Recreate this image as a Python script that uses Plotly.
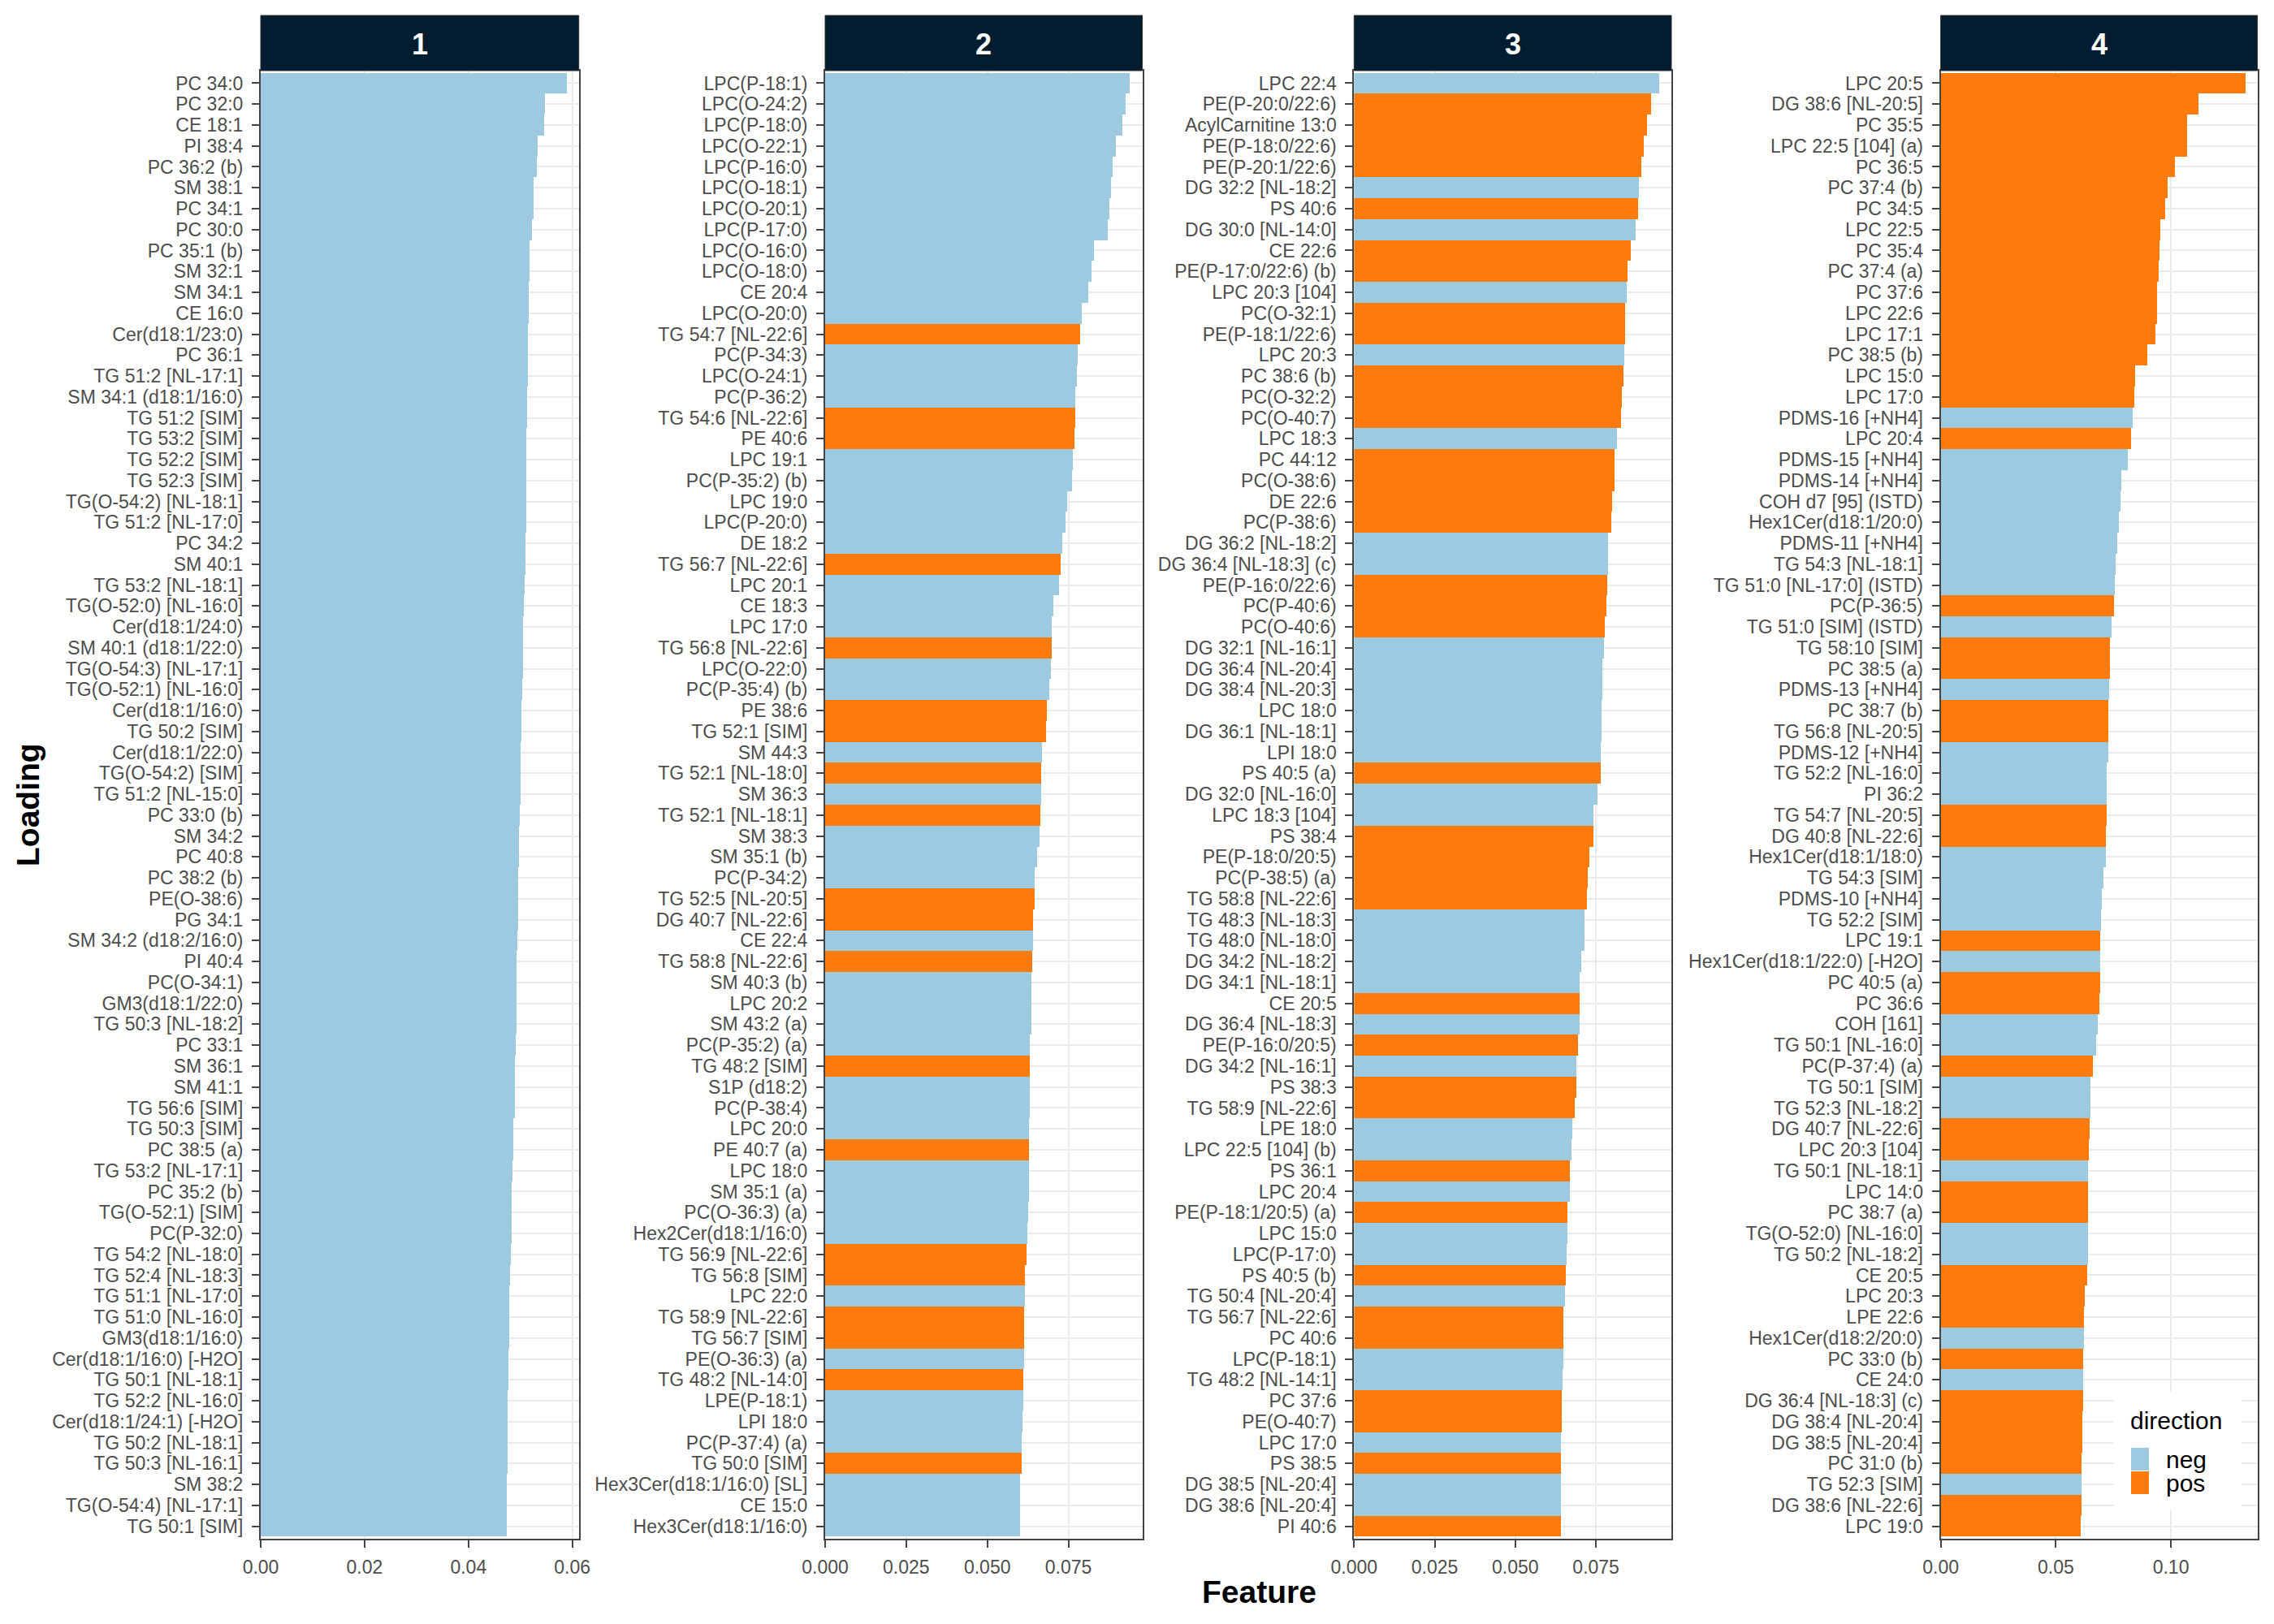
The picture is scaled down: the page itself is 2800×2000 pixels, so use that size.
"""Top feature loadings per component, faceted bar chart (4 panels)."""

import plotly.graph_objects as go

FIG_W, FIG_H = 2800, 2000
PAGE_OFFSET = 8  # browser body margin, the figure is drawn 8px in from the page corner
FONT = "Liberation Sans, Arial, sans-serif"
COLORS = {"neg": "#9ecae1", "pos": "#fd7b0b"}
STRIP_COLOR = "#021d2f"
GRID_COLOR = "#ebebeb"
BORDER_COLOR = "#444444"
TICK_TEXT_COLOR = "#4d4d4d"

PANEL_IDS = ["1", "2", "3", "4"]
DIRECTION_LEVELS = ["neg", "pos"]

# ---- panel 1 -------------------------------------------------------------
P1_FEATURES = [
    "PC 34:0", "PC 32:0", "CE 18:1", "PI 38:4", "PC 36:2 (b)", "SM 38:1", "PC 34:1", "PC 30:0",
    "PC 35:1 (b)", "SM 32:1", "SM 34:1", "CE 16:0", "Cer(d18:1/23:0)", "PC 36:1",
    "TG 51:2 [NL-17:1]", "SM 34:1 (d18:1/16:0)", "TG 51:2 [SIM]", "TG 53:2 [SIM]",
    "TG 52:2 [SIM]", "TG 52:3 [SIM]", "TG(O-54:2) [NL-18:1]", "TG 51:2 [NL-17:0]", "PC 34:2",
    "SM 40:1", "TG 53:2 [NL-18:1]", "TG(O-52:0) [NL-16:0]", "Cer(d18:1/24:0)",
    "SM 40:1 (d18:1/22:0)", "TG(O-54:3) [NL-17:1]", "TG(O-52:1) [NL-16:0]", "Cer(d18:1/16:0)",
    "TG 50:2 [SIM]", "Cer(d18:1/22:0)", "TG(O-54:2) [SIM]", "TG 51:2 [NL-15:0]", "PC 33:0 (b)",
    "SM 34:2", "PC 40:8", "PC 38:2 (b)", "PE(O-38:6)", "PG 34:1", "SM 34:2 (d18:2/16:0)",
    "PI 40:4", "PC(O-34:1)", "GM3(d18:1/22:0)", "TG 50:3 [NL-18:2]", "PC 33:1", "SM 36:1",
    "SM 41:1", "TG 56:6 [SIM]", "TG 50:3 [SIM]", "PC 38:5 (a)", "TG 53:2 [NL-17:1]",
    "PC 35:2 (b)", "TG(O-52:1) [SIM]", "PC(P-32:0)", "TG 54:2 [NL-18:0]", "TG 52:4 [NL-18:3]",
    "TG 51:1 [NL-17:0]", "TG 51:0 [NL-16:0]", "GM3(d18:1/16:0)", "Cer(d18:1/16:0) [-H2O]",
    "TG 50:1 [NL-18:1]", "TG 52:2 [NL-16:0]", "Cer(d18:1/24:1) [-H2O]", "TG 50:2 [NL-18:1]",
    "TG 50:3 [NL-16:1]", "SM 38:2", "TG(O-54:4) [NL-17:1]", "TG 50:1 [SIM]",
]
P1_LOADINGS = [
    0.0589, 0.0548, 0.0546, 0.0534, 0.0531, 0.0526, 0.0526, 0.0522, 0.0518, 0.0517,
    0.0516, 0.0516, 0.0515, 0.0514, 0.0514, 0.0513, 0.0513, 0.0512, 0.0512, 0.0512,
    0.0511, 0.0511, 0.0510, 0.0510, 0.0509, 0.0506, 0.0505, 0.0505, 0.0505, 0.0503,
    0.0502, 0.0502, 0.0501, 0.0500, 0.0500, 0.0499, 0.0497, 0.0497, 0.0496, 0.0495,
    0.0495, 0.0494, 0.0493, 0.0493, 0.0492, 0.0492, 0.0491, 0.0490, 0.0490, 0.0489,
    0.0487, 0.0486, 0.0485, 0.0484, 0.0484, 0.0483, 0.0481, 0.0480, 0.0479, 0.0479,
    0.0478, 0.0477, 0.0477, 0.0476, 0.0476, 0.0476, 0.0475, 0.0474, 0.0474, 0.0474,
]
P1_DIRECTION = [
    "neg", "neg", "neg", "neg", "neg", "neg", "neg", "neg", "neg", "neg",
    "neg", "neg", "neg", "neg", "neg", "neg", "neg", "neg", "neg", "neg",
    "neg", "neg", "neg", "neg", "neg", "neg", "neg", "neg", "neg", "neg",
    "neg", "neg", "neg", "neg", "neg", "neg", "neg", "neg", "neg", "neg",
    "neg", "neg", "neg", "neg", "neg", "neg", "neg", "neg", "neg", "neg",
    "neg", "neg", "neg", "neg", "neg", "neg", "neg", "neg", "neg", "neg",
    "neg", "neg", "neg", "neg", "neg", "neg", "neg", "neg", "neg", "neg",
]
P1_TICKVALS = [0.0, 0.02, 0.04, 0.06]
P1_TICKTEXT = ["0.00", "0.02", "0.04", "0.06"]

# ---- panel 2 -------------------------------------------------------------
P2_FEATURES = [
    "LPC(P-18:1)", "LPC(O-24:2)", "LPC(P-18:0)", "LPC(O-22:1)", "LPC(P-16:0)", "LPC(O-18:1)",
    "LPC(O-20:1)", "LPC(P-17:0)", "LPC(O-16:0)", "LPC(O-18:0)", "CE 20:4", "LPC(O-20:0)",
    "TG 54:7 [NL-22:6]", "PC(P-34:3)", "LPC(O-24:1)", "PC(P-36:2)", "TG 54:6 [NL-22:6]",
    "PE 40:6", "LPC 19:1", "PC(P-35:2) (b)", "LPC 19:0", "LPC(P-20:0)", "DE 18:2",
    "TG 56:7 [NL-22:6]", "LPC 20:1", "CE 18:3", "LPC 17:0", "TG 56:8 [NL-22:6]", "LPC(O-22:0)",
    "PC(P-35:4) (b)", "PE 38:6", "TG 52:1 [SIM]", "SM 44:3", "TG 52:1 [NL-18:0]", "SM 36:3",
    "TG 52:1 [NL-18:1]", "SM 38:3", "SM 35:1 (b)", "PC(P-34:2)", "TG 52:5 [NL-20:5]",
    "DG 40:7 [NL-22:6]", "CE 22:4", "TG 58:8 [NL-22:6]", "SM 40:3 (b)", "LPC 20:2",
    "SM 43:2 (a)", "PC(P-35:2) (a)", "TG 48:2 [SIM]", "S1P (d18:2)", "PC(P-38:4)", "LPC 20:0",
    "PE 40:7 (a)", "LPC 18:0", "SM 35:1 (a)", "PC(O-36:3) (a)", "Hex2Cer(d18:1/16:0)",
    "TG 56:9 [NL-22:6]", "TG 56:8 [SIM]", "LPC 22:0", "TG 58:9 [NL-22:6]", "TG 56:7 [SIM]",
    "PE(O-36:3) (a)", "TG 48:2 [NL-14:0]", "LPE(P-18:1)", "LPI 18:0", "PC(P-37:4) (a)",
    "TG 50:0 [SIM]", "Hex3Cer(d18:1/16:0) [SL]", "CE 15:0", "Hex3Cer(d18:1/16:0)",
]
P2_LOADINGS = [
    0.0940, 0.0926, 0.0916, 0.0895, 0.0885, 0.0882, 0.0876, 0.0870, 0.0829, 0.0821,
    0.0811, 0.0790, 0.0787, 0.0778, 0.0776, 0.0772, 0.0771, 0.0768, 0.0764, 0.0760,
    0.0745, 0.0742, 0.0730, 0.0727, 0.0720, 0.0703, 0.0699, 0.0698, 0.0697, 0.0691,
    0.0684, 0.0680, 0.0668, 0.0665, 0.0665, 0.0664, 0.0661, 0.0653, 0.0647, 0.0645,
    0.0641, 0.0640, 0.0639, 0.0637, 0.0636, 0.0635, 0.0632, 0.0632, 0.0630, 0.0630,
    0.0629, 0.0629, 0.0629, 0.0628, 0.0627, 0.0624, 0.0622, 0.0616, 0.0615, 0.0614,
    0.0614, 0.0613, 0.0611, 0.0610, 0.0609, 0.0607, 0.0605, 0.0602, 0.0601, 0.0600,
]
P2_DIRECTION = [
    "neg", "neg", "neg", "neg", "neg", "neg", "neg", "neg", "neg", "neg",
    "neg", "neg", "pos", "neg", "neg", "neg", "pos", "pos", "neg", "neg",
    "neg", "neg", "neg", "pos", "neg", "neg", "neg", "pos", "neg", "neg",
    "pos", "pos", "neg", "pos", "neg", "pos", "neg", "neg", "neg", "pos",
    "pos", "neg", "pos", "neg", "neg", "neg", "neg", "pos", "neg", "neg",
    "neg", "pos", "neg", "neg", "neg", "neg", "pos", "pos", "neg", "pos",
    "pos", "neg", "pos", "neg", "neg", "neg", "pos", "neg", "neg", "neg",
]
P2_TICKVALS = [0.0, 0.025, 0.05, 0.075]
P2_TICKTEXT = ["0.000", "0.025", "0.050", "0.075"]

# ---- panel 3 -------------------------------------------------------------
P3_FEATURES = [
    "LPC 22:4", "PE(P-20:0/22:6)", "AcylCarnitine 13:0", "PE(P-18:0/22:6)", "PE(P-20:1/22:6)",
    "DG 32:2 [NL-18:2]", "PS 40:6", "DG 30:0 [NL-14:0]", "CE 22:6", "PE(P-17:0/22:6) (b)",
    "LPC 20:3 [104]", "PC(O-32:1)", "PE(P-18:1/22:6)", "LPC 20:3", "PC 38:6 (b)", "PC(O-32:2)",
    "PC(O-40:7)", "LPC 18:3", "PC 44:12", "PC(O-38:6)", "DE 22:6", "PC(P-38:6)",
    "DG 36:2 [NL-18:2]", "DG 36:4 [NL-18:3] (c)", "PE(P-16:0/22:6)", "PC(P-40:6)", "PC(O-40:6)",
    "DG 32:1 [NL-16:1]", "DG 36:4 [NL-20:4]", "DG 38:4 [NL-20:3]", "LPC 18:0",
    "DG 36:1 [NL-18:1]", "LPI 18:0", "PS 40:5 (a)", "DG 32:0 [NL-16:0]", "LPC 18:3 [104]",
    "PS 38:4", "PE(P-18:0/20:5)", "PC(P-38:5) (a)", "TG 58:8 [NL-22:6]", "TG 48:3 [NL-18:3]",
    "TG 48:0 [NL-18:0]", "DG 34:2 [NL-18:2]", "DG 34:1 [NL-18:1]", "CE 20:5",
    "DG 36:4 [NL-18:3]", "PE(P-16:0/20:5)", "DG 34:2 [NL-16:1]", "PS 38:3", "TG 58:9 [NL-22:6]",
    "LPE 18:0", "LPC 22:5 [104] (b)", "PS 36:1", "LPC 20:4", "PE(P-18:1/20:5) (a)", "LPC 15:0",
    "LPC(P-17:0)", "PS 40:5 (b)", "TG 50:4 [NL-20:4]", "TG 56:7 [NL-22:6]", "PC 40:6",
    "LPC(P-18:1)", "TG 48:2 [NL-14:1]", "PC 37:6", "PE(O-40:7)", "LPC 17:0", "PS 38:5",
    "DG 38:5 [NL-20:4]", "DG 38:6 [NL-20:4]", "PI 40:6",
]
P3_LOADINGS = [
    0.0946, 0.0921, 0.0910, 0.0898, 0.0892, 0.0883, 0.0881, 0.0874, 0.0859, 0.0848,
    0.0845, 0.0840, 0.0840, 0.0839, 0.0836, 0.0830, 0.0828, 0.0815, 0.0809, 0.0808,
    0.0802, 0.0797, 0.0787, 0.0787, 0.0785, 0.0783, 0.0777, 0.0775, 0.0771, 0.0770,
    0.0769, 0.0767, 0.0766, 0.0766, 0.0756, 0.0744, 0.0744, 0.0730, 0.0724, 0.0723,
    0.0716, 0.0714, 0.0704, 0.0701, 0.0699, 0.0699, 0.0695, 0.0690, 0.0689, 0.0686,
    0.0678, 0.0676, 0.0671, 0.0671, 0.0663, 0.0662, 0.0661, 0.0657, 0.0655, 0.0650,
    0.0650, 0.0649, 0.0646, 0.0645, 0.0644, 0.0643, 0.0643, 0.0642, 0.0642, 0.0642,
]
P3_DIRECTION = [
    "neg", "pos", "pos", "pos", "pos", "neg", "pos", "neg", "pos", "pos",
    "neg", "pos", "pos", "neg", "pos", "pos", "pos", "neg", "pos", "pos",
    "pos", "pos", "neg", "neg", "pos", "pos", "pos", "neg", "neg", "neg",
    "neg", "neg", "neg", "pos", "neg", "neg", "pos", "pos", "pos", "pos",
    "neg", "neg", "neg", "neg", "pos", "neg", "pos", "neg", "pos", "pos",
    "neg", "neg", "pos", "neg", "pos", "neg", "neg", "pos", "neg", "pos",
    "pos", "neg", "neg", "pos", "pos", "neg", "pos", "neg", "neg", "pos",
]
P3_TICKVALS = [0.0, 0.025, 0.05, 0.075]
P3_TICKTEXT = ["0.000", "0.025", "0.050", "0.075"]

# ---- panel 4 -------------------------------------------------------------
P4_FEATURES = [
    "LPC 20:5", "DG 38:6 [NL-20:5]", "PC 35:5", "LPC 22:5 [104] (a)", "PC 36:5", "PC 37:4 (b)",
    "PC 34:5", "LPC 22:5", "PC 35:4", "PC 37:4 (a)", "PC 37:6", "LPC 22:6", "LPC 17:1",
    "PC 38:5 (b)", "LPC 15:0", "LPC 17:0", "PDMS-16 [+NH4]", "LPC 20:4", "PDMS-15 [+NH4]",
    "PDMS-14 [+NH4]", "COH d7 [95] (ISTD)", "Hex1Cer(d18:1/20:0)", "PDMS-11 [+NH4]",
    "TG 54:3 [NL-18:1]", "TG 51:0 [NL-17:0] (ISTD)", "PC(P-36:5)", "TG 51:0 [SIM] (ISTD)",
    "TG 58:10 [SIM]", "PC 38:5 (a)", "PDMS-13 [+NH4]", "PC 38:7 (b)", "TG 56:8 [NL-20:5]",
    "PDMS-12 [+NH4]", "TG 52:2 [NL-16:0]", "PI 36:2", "TG 54:7 [NL-20:5]", "DG 40:8 [NL-22:6]",
    "Hex1Cer(d18:1/18:0)", "TG 54:3 [SIM]", "PDMS-10 [+NH4]", "TG 52:2 [SIM]", "LPC 19:1",
    "Hex1Cer(d18:1/22:0) [-H2O]", "PC 40:5 (a)", "PC 36:6", "COH [161]", "TG 50:1 [NL-16:0]",
    "PC(P-37:4) (a)", "TG 50:1 [SIM]", "TG 52:3 [NL-18:2]", "DG 40:7 [NL-22:6]",
    "LPC 20:3 [104]", "TG 50:1 [NL-18:1]", "LPC 14:0", "PC 38:7 (a)", "TG(O-52:0) [NL-16:0]",
    "TG 50:2 [NL-18:2]", "CE 20:5", "LPC 20:3", "LPE 22:6", "Hex1Cer(d18:2/20:0)",
    "PC 33:0 (b)", "CE 24:0", "DG 36:4 [NL-18:3] (c)", "DG 38:4 [NL-20:4]", "DG 38:5 [NL-20:4]",
    "PC 31:0 (b)", "TG 52:3 [SIM]", "DG 38:6 [NL-22:6]", "LPC 19:0",
]
P4_LOADINGS = [
    0.1323, 0.1120, 0.1070, 0.1068, 0.1015, 0.0984, 0.0974, 0.0953, 0.0950, 0.0947,
    0.0940, 0.0940, 0.0930, 0.0895, 0.0843, 0.0838, 0.0832, 0.0825, 0.0812, 0.0783,
    0.0778, 0.0773, 0.0765, 0.0759, 0.0755, 0.0751, 0.0742, 0.0733, 0.0733, 0.0731,
    0.0728, 0.0728, 0.0725, 0.0721, 0.0720, 0.0718, 0.0717, 0.0715, 0.0704, 0.0700,
    0.0695, 0.0692, 0.0691, 0.0690, 0.0687, 0.0682, 0.0673, 0.0660, 0.0650, 0.0648,
    0.0644, 0.0642, 0.0640, 0.0639, 0.0638, 0.0637, 0.0637, 0.0634, 0.0626, 0.0622,
    0.0621, 0.0618, 0.0616, 0.0616, 0.0615, 0.0613, 0.0612, 0.0610, 0.0609, 0.0607,
]
P4_DIRECTION = [
    "pos", "pos", "pos", "pos", "pos", "pos", "pos", "pos", "pos", "pos",
    "pos", "pos", "pos", "pos", "pos", "pos", "neg", "pos", "neg", "neg",
    "neg", "neg", "neg", "neg", "neg", "pos", "neg", "pos", "pos", "neg",
    "pos", "pos", "neg", "neg", "neg", "pos", "pos", "neg", "neg", "neg",
    "neg", "pos", "neg", "pos", "pos", "neg", "neg", "pos", "neg", "neg",
    "pos", "pos", "neg", "pos", "pos", "neg", "neg", "pos", "pos", "pos",
    "neg", "pos", "neg", "pos", "pos", "pos", "pos", "neg", "pos", "pos",
]
P4_TICKVALS = [0.0, 0.05, 0.10]
P4_TICKTEXT = ["0.00", "0.05", "0.10"]

# ---- layout in page pixels (left, right) ----------------------------------
PANEL_X = [(321, 712.7), (1016, 1406.5), (1667.3, 2058), (2389.6, 2779.6)]
PANEL_TOP, PANEL_BOTTOM = 87, 1895
STRIP_TOP = 19


def px_x(x: float) -> float:
    return (x - PAGE_OFFSET) / FIG_W


def px_y(y: float) -> float:
    return 1 - (y - PAGE_OFFSET) / FIG_H


def axis_keys(n: int) -> tuple[str, str, str, str]:
    suffix = "" if n == 1 else str(n)
    return f"x{suffix}", f"y{suffix}", f"xaxis{suffix}", f"yaxis{suffix}"


def add_panel(fig: go.Figure, n: int, features, loadings, direction, tickvals, ticktext) -> None:
    xref, yref, xkey, ykey = axis_keys(n)
    left, right = PANEL_X[n - 1]
    fig.add_trace(
        go.Bar(
            x=loadings,
            y=features,
            orientation="h",
            marker=dict(color=[COLORS[d] for d in direction], line=dict(width=0)),
            customdata=direction,
            hovertemplate="%{y}<br>loading=%{x:.4f}<br>%{customdata}<extra></extra>",
            xaxis=xref,
            yaxis=yref,
            showlegend=False,
        )
    )
    common = dict(
        showline=True,
        linecolor=BORDER_COLOR,
        linewidth=2,
        mirror=True,
        ticks="outside",
        ticklen=9,
        tickwidth=2,
        tickcolor=BORDER_COLOR,
        tickfont=dict(family=FONT, size=23, color=TICK_TEXT_COLOR),
        showgrid=True,
        gridcolor=GRID_COLOR,
        gridwidth=2,
        zeroline=False,
        automargin=False,
    )
    fig.update_layout(
        {
            xkey: dict(
                common,
                domain=[px_x(left), px_x(right)],
                anchor=yref,
                range=[0, max(loadings) * 1.04],
                tickmode="array",
                tickvals=tickvals,
                ticktext=ticktext,
                ticklabelstandoff=4,
            ),
            ykey: dict(
                common,
                domain=[px_y(PANEL_BOTTOM), px_y(PANEL_TOP)],
                anchor=xref,
                type="category",
                categoryorder="array",
                categoryarray=features,
                tickmode="array",
                tickvals=features,
                ticktext=features,
                range=[len(features) - 0.4, -0.6],
                ticklabelstandoff=6,
            ),
        }
    )
    # facet strip
    fig.add_shape(
        type="rect", xref="paper", yref="paper",
        x0=px_x(left), x1=px_x(right), y0=px_y(PANEL_TOP), y1=px_y(STRIP_TOP),
        fillcolor=STRIP_COLOR, line=dict(color="#333333", width=1),
    )
    fig.add_annotation(
        x=px_x((left + right) / 2), y=px_y((PANEL_TOP + STRIP_TOP) / 2 + 1),
        xref="paper", yref="paper", text=PANEL_IDS[n - 1], showarrow=False,
        font=dict(family=FONT, size=36, color="white", weight="bold"),
        xanchor="center", yanchor="middle",
    )


def add_legend(fig: go.Figure) -> None:
    fig.add_shape(
        type="rect", xref="paper", yref="paper", layer="above",
        x0=px_x(2603), x1=px_x(2760), y0=px_y(1860), y1=px_y(1715),
        fillcolor="white", line=dict(width=0),
    )
    fig.add_annotation(
        x=px_x(2621), y=px_y(1749), xref="paper", yref="paper", text="direction",
        showarrow=False, xanchor="left", yanchor="middle",
        font=dict(family=FONT, size=30, color="black"),
    )
    key_top = 1783
    for level in DIRECTION_LEVELS:
        fig.add_shape(
            type="rect", xref="paper", yref="paper", layer="above",
            x0=px_x(2624), x1=px_x(2646), y0=px_y(key_top + 28), y1=px_y(key_top),
            fillcolor=COLORS[level], line=dict(width=0),
        )
        fig.add_annotation(
            x=px_x(2665), y=px_y(key_top + 14), xref="paper", yref="paper", text=level,
            showarrow=False, xanchor="left", yanchor="middle",
            font=dict(family=FONT, size=30, color="black"),
        )
        key_top += 29


fig = go.Figure()
panels = [
    (P1_FEATURES, P1_LOADINGS, P1_DIRECTION, P1_TICKVALS, P1_TICKTEXT),
    (P2_FEATURES, P2_LOADINGS, P2_DIRECTION, P2_TICKVALS, P2_TICKTEXT),
    (P3_FEATURES, P3_LOADINGS, P3_DIRECTION, P3_TICKVALS, P3_TICKTEXT),
    (P4_FEATURES, P4_LOADINGS, P4_DIRECTION, P4_TICKVALS, P4_TICKTEXT),
]
for i, panel in enumerate(panels, start=1):
    add_panel(fig, i, *panel)
add_legend(fig)

# axis titles (coord_flip style: categories are "Loading", values are "Feature")
fig.add_annotation(
    x=px_x(34), y=px_y((PANEL_TOP + PANEL_BOTTOM) / 2), xref="paper", yref="paper",
    text="Loading", textangle=-90, showarrow=False, xanchor="center", yanchor="middle",
    font=dict(family=FONT, size=39, color="black", weight="bold"),
)
fig.add_annotation(
    x=px_x((PANEL_X[0][0] + PANEL_X[3][1]) / 2), y=px_y(1960), xref="paper", yref="paper",
    text="Feature", showarrow=False, xanchor="center", yanchor="middle",
    font=dict(family=FONT, size=39, color="black", weight="bold"),
)

fig.update_layout(
    width=FIG_W,
    height=FIG_H,
    margin=dict(l=0, r=0, t=0, b=0),
    paper_bgcolor="white",
    plot_bgcolor="white",
    bargap=0,
    barmode="overlay",
    showlegend=False,
    font=dict(family=FONT),
)
fig.write_html("out.html")
